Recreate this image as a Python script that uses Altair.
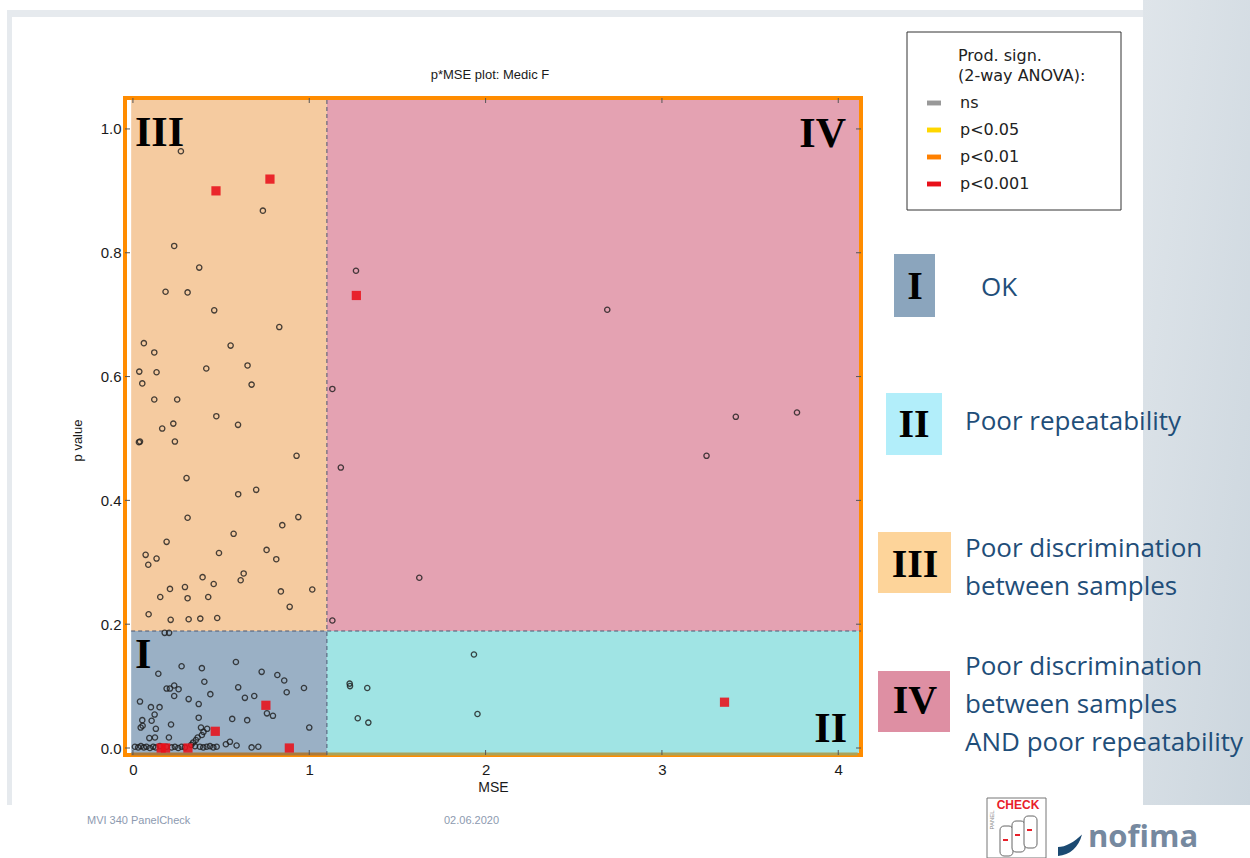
import altair as alt
import pandas as pd

# ---- p*MSE results (assessor x attribute) ---------------------------
# Quadrant I: low MSE, low p value
i_mse = [0.180, 0.205, 0.276, 0.391, 0.584, 0.144, 0.405, 0.730, 0.819, 0.858,
         0.191, 0.210, 0.234, 0.259, 0.597, 0.970, 0.872, 0.439, 0.234, 0.635,
         0.688, 0.316, 0.040, 0.373, 0.102, 0.151, 0.123, 0.760, 0.794, 0.373,
         0.053, 0.106, 0.563, 0.648, 0.216, 0.044, 0.055, 0.130, 0.386, 0.421,
         1.000, 0.400, 0.391, 0.367, 0.357, 0.342, 0.331, 0.093, 0.125, 0.204,
         0.527, 0.550]
i_p = [0.186, 0.186, 0.132, 0.129, 0.139, 0.120, 0.107, 0.123, 0.118, 0.109,
       0.096, 0.096, 0.101, 0.095, 0.098, 0.097, 0.090, 0.087, 0.084, 0.081,
       0.084, 0.079, 0.075, 0.071, 0.066, 0.066, 0.054, 0.056, 0.052, 0.049,
       0.045, 0.044, 0.047, 0.045, 0.038, 0.033, 0.036, 0.031, 0.033, 0.031,
       0.033, 0.026, 0.021, 0.017, 0.013, 0.009, 0.005, 0.016, 0.017, 0.017,
       0.006, 0.010]
# Quadrant I, results with p close to zero
zero_mse = [0.011, 0.030, 0.045, 0.062, 0.077, 0.096, 0.115, 0.130, 0.153, 0.191,
            0.219, 0.238, 0.257, 0.276, 0.295, 0.352, 0.380, 0.399, 0.418, 0.437,
            0.456, 0.475, 0.588, 0.673, 0.711]
zero_p = [0.002, 0.001, 0.003, 0.001, 0.002, 0.000, 0.002, 0.001, 0.003, 0.002,
          0.001, 0.002, 0.000, 0.002, 0.001, 0.003, 0.002, 0.001, 0.002, 0.003,
          0.001, 0.002, 0.004, 0.001, 0.002]
# Quadrant II: high MSE, low p value
ii_mse = [1.934, 1.229, 1.231, 1.329, 1.275, 1.335, 1.954]
ii_p = [0.151, 0.104, 0.100, 0.097, 0.048, 0.041, 0.055]
# Quadrant III: low MSE, high p value
iii_mse = [0.272, 0.737, 0.234, 0.376, 0.185, 0.310, 0.461, 0.830, 0.062, 0.121,
           0.554, 0.036, 0.134, 0.416, 0.650, 0.053, 0.673, 0.121, 0.251, 0.473,
           0.229, 0.596, 0.166, 0.034, 0.040, 0.238, 0.928, 0.304, 0.597, 0.699,
           0.310, 0.938, 0.847, 0.571, 0.191, 0.072, 0.134, 0.087, 0.488, 0.758,
           0.813, 0.628, 0.611, 0.395, 0.458, 0.210, 0.295, 0.155, 0.310, 0.427,
           0.839, 1.017, 0.889, 0.089, 0.214, 0.316, 0.382, 0.478]
iii_p = [0.964, 0.868, 0.811, 0.776, 0.737, 0.736, 0.707, 0.680, 0.654, 0.639,
         0.650, 0.608, 0.607, 0.613, 0.618, 0.589, 0.587, 0.563, 0.563, 0.536,
         0.524, 0.522, 0.516, 0.494, 0.495, 0.495, 0.472, 0.436, 0.410, 0.417,
         0.372, 0.373, 0.360, 0.346, 0.333, 0.312, 0.306, 0.296, 0.315, 0.320,
         0.305, 0.282, 0.271, 0.276, 0.265, 0.257, 0.260, 0.244, 0.242, 0.244,
         0.253, 0.256, 0.228, 0.216, 0.207, 0.208, 0.209, 0.210]
# Quadrant IV: high MSE, high p value
iv_mse = [1.265, 2.690, 1.131, 1.179, 3.419, 3.766, 3.253, 1.624, 1.131]
iv_p = [0.771, 0.708, 0.580, 0.453, 0.535, 0.542, 0.472, 0.275, 0.206]

# Results with a significant product effect (drawn as squares)
sq_mse = [0.471, 0.777, 1.267, 3.355, 0.754, 0.467, 0.160, 0.185, 0.312, 0.887]
sq_p = [0.900, 0.919, 0.731, 0.074, 0.069, 0.027, 0.000, 0.000, 0.000, 0.000]
sq_sig = ["p<0.001", "p<0.001", "p<0.001", "p<0.001", "p<0.001",
          "p<0.001", "p<0.001", "p<0.001", "p<0.001", "p<0.001"]

SIG_LEVELS = ["ns", "p<0.05", "p<0.01", "p<0.001"]
SIG_COLORS = ["#999999", "#ffd700", "#ff8000", "#e8101a"]

QUAD_NAMES = ["I", "II", "III", "IV"]
QUAD_FILLS = ["#9ab0c5", "#a0e4e4", "#f5cba0", "#e4a2b2"]
BOX_FILLS = ["#8ba5bd", "#b2eefa", "#fdd49a", "#de8fa3"]
QUAD_TEXT = ["OK", "Poor repeatability",
             "Poor discrimination\nbetween samples",
             "Poor discrimination\nbetween samples\nAND poor repeatability"]

X_TICKS = [0, 1, 2, 3, 4]
Y_TICKS = [0.0, 0.2, 0.4, 0.6, 0.8, 1.0]
MSE_LIMIT = 1.1
P_LIMIT = 0.189
PLOT_TITLE = "p*MSE plot: Medic F"

# ---- page geometry ---------------------------------------------------
PAGE_W, PAGE_H = 1250, 858
LEFT, TOP = 125, 98          # page position of the plot frame
W, H = 736, 657
X_DOMAIN = [-0.045, 4.129]
Y_DOMAIN = [-0.0113, 1.050]
FILL_X0 = -0.01

SANS = "Liberation Sans"
SERIF = "Liberation Serif"
SLIDE_FONT = "Open Sans"
SLIDE_BLUE = "#1f4e79"

ONE = alt.InlineData(values=[{"k": 0}])


def px_rect(x0, y0, x1, y1, **style):
    return alt.Chart(ONE).mark_rect(**style).encode(
        x=alt.value(x0 - LEFT), x2=alt.value(x1 - LEFT),
        y=alt.value(y0 - TOP), y2=alt.value(y1 - TOP))


def px_text(x, y, text, **style):
    # multi-line texts: y is the centre of the first line
    return alt.Chart(ONE).mark_text(lineBreak="\n", **style).encode(
        x=alt.value(x - LEFT), y=alt.value(y - TOP), text=alt.value(text))


xs = alt.Scale(domain=X_DOMAIN, nice=False, zero=False)
ys = alt.Scale(domain=Y_DOMAIN, nice=False, zero=False)
x_axis = alt.Axis(values=X_TICKS, format="d", title="MSE", ticks=False, domain=False,
                  grid=False, labelFont=SANS, labelFontSize=15, labelColor="#1a1a1a",
                  labelPadding=7, labelFlush=False, titleFont=SANS, titleFontSize=14,
                  titleFontWeight="normal", titleColor="#1a1a1a", titlePadding=3)
y_axis = alt.Axis(values=Y_TICKS, format=".1f", title="p value", ticks=False, domain=False,
                  grid=False, labelFont=SANS, labelFontSize=15, labelColor="#1a1a1a",
                  labelPadding=4, labelFlush=False, titleFont=SANS, titleFontSize=13,
                  titleFontWeight="normal", titleColor="#1a1a1a", titlePadding=16,
                  titleY=342)


def X(field):
    return alt.X(field, type="quantitative", scale=xs, axis=x_axis)


def Y(field):
    return alt.Y(field, type="quantitative", scale=ys, axis=y_axis)


# ---- slide decorations --------------------------------------------------
side_panel = px_rect(1143, 0, PAGE_W, 805, fill=alt.Gradient(
    gradient="linear", x1=0, x2=1, y1=0, y2=1,
    stops=[alt.GradientStop(color="#dfe5ea", offset=0),
           alt.GradientStop(color="#ccd6de", offset=1)]))
top_band = px_rect(7, 10, 1143, 17, fill="#e6eaee")
left_line = px_rect(7, 10, 12, 805, fill="#e6eaee")

# ---- quadrant backgrounds ---------------------------------------------
quad_df = pd.DataFrame({
    "quad": QUAD_NAMES,
    "x0": [FILL_X0, MSE_LIMIT, FILL_X0, MSE_LIMIT],
    "x1": [MSE_LIMIT, X_DOMAIN[1], MSE_LIMIT, X_DOMAIN[1]],
    "y0": [Y_DOMAIN[0], Y_DOMAIN[0], P_LIMIT, P_LIMIT],
    "y1": [P_LIMIT, P_LIMIT, Y_DOMAIN[1], Y_DOMAIN[1]],
})
quads = alt.Chart(quad_df).mark_rect().encode(
    x=X("x0"), x2="x1", y=Y("y0"), y2="y1",
    fill=alt.Fill("quad:N", scale=alt.Scale(domain=QUAD_NAMES, range=QUAD_FILLS), legend=None))

frame = px_rect(LEFT, TOP, LEFT + W, TOP + H, filled=False, stroke="#ff8c00", strokeWidth=4)

edge_i = alt.Chart(pd.DataFrame({"x0": [FILL_X0], "x1": [MSE_LIMIT]})).mark_rule(
    color="#aa7a3c", strokeWidth=3).encode(x=X("x0"), x2="x1", y=alt.value(H - 1))
edge_ii = alt.Chart(pd.DataFrame({"x0": [MSE_LIMIT], "x1": [4.11]})).mark_rule(
    color="#a9a35a", strokeWidth=3).encode(x=X("x0"), x2="x1", y=alt.value(H - 1))

div_style = dict(color="#4a5670", strokeWidth=1, strokeDash=[4, 3])
v_div = alt.Chart(pd.DataFrame({"x": [MSE_LIMIT], "y0": [Y_DOMAIN[0]], "y1": [Y_DOMAIN[1]]})
                  ).mark_rule(**div_style).encode(x=X("x"), y=Y("y0"), y2="y1")
h_div = alt.Chart(pd.DataFrame({"y": [P_LIMIT], "x0": [FILL_X0], "x1": [X_DOMAIN[1]]})
                  ).mark_rule(**div_style).encode(y=Y("y"), x=X("x0"), x2="x1")

# inward-pointing tick marks on all four sides
tick_style = dict(color="#555555", strokeWidth=1)
xt_df = pd.DataFrame({"t": X_TICKS})
yt_df = pd.DataFrame({"t": Y_TICKS})
ticks = [
    alt.Chart(xt_df).mark_rule(**tick_style).encode(x=X("t"), y=alt.value(H - 5), y2=alt.value(H)),
    alt.Chart(xt_df).mark_rule(**tick_style).encode(x=X("t"), y=alt.value(0), y2=alt.value(5)),
    alt.Chart(yt_df).mark_rule(**tick_style).encode(y=Y("t"), x=alt.value(0), x2=alt.value(5)),
    alt.Chart(yt_df).mark_rule(**tick_style).encode(y=Y("t"), x=alt.value(W - 5), x2=alt.value(W)),
]

# ---- data marks ------------------------------------------------------------
circ_df = pd.DataFrame({
    "mse": i_mse + zero_mse + ii_mse + iii_mse + iv_mse,
    "p": i_p + zero_p + ii_p + iii_p + iv_p,
})
circles = alt.Chart(circ_df).mark_point(
    shape="circle", filled=False, size=28, stroke="#1c1c1c", strokeWidth=1.3, opacity=0.8
).encode(x=X("mse"), y=Y("p"))

sq_df = pd.DataFrame({"mse": sq_mse, "p": sq_p, "sig": sq_sig})
squares = alt.Chart(sq_df).mark_square(size=85, opacity=0.88).encode(
    x=X("mse"), y=Y("p"),
    color=alt.Color("sig:N", scale=alt.Scale(domain=SIG_LEVELS, range=SIG_COLORS),
                    legend=alt.Legend(orient="none", legendX=801, legendY=-3, title=None,
                                      padding=0, labelFont="DejaVu Sans", labelFontSize=16,
                                      labelColor="#222222", labelOffset=18, rowPadding=11,
                                      symbolType="M-1,-0.35H1V0.35H-1Z", symbolSize=196,
                                      symbolStrokeWidth=0, symbolOpacity=1)))

# ---- plot title and quadrant numerals ----------------------------------------
plot_title = px_text(490, 75, PLOT_TITLE, font=SANS, fontSize=13, color="#1a1a1a",
                     align="center", baseline="middle")
numeral = dict(font=SERIF, fontWeight="bold", fontSize=42, color="#000000", baseline="middle")
plot_numerals = [
    px_text(135, 133, "III", align="left", **numeral),
    px_text(846, 134, "IV", align="right", **numeral),
    px_text(135, 655, "I", align="left", **numeral),
    px_text(847, 729, "II", align="right", **numeral),
]

# ---- legend box ------------------------------------------------------------
legend_box = px_rect(907, 32, 1121, 210, fill="white", stroke="#333333", strokeWidth=1)
legend_title = px_text(958, 56, "Prod. sign.\n(2-way ANOVA):", align="left", baseline="middle",
                       font="DejaVu Sans", fontSize=16, lineHeight=20, color="#222222")

# ---- quadrant key on the right --------------------------------------------
key_boxes = [
    px_rect(894, 254, 935, 317, fill=BOX_FILLS[0]),
    px_rect(886, 393, 942, 455, fill=BOX_FILLS[1]),
    px_rect(878, 532, 951, 593, fill=BOX_FILLS[2]),
    px_rect(878, 671, 950, 732, fill=BOX_FILLS[3]),
]
key_numeral = dict(font=SERIF, fontWeight="bold", fontSize=40, color="#000000",
                   baseline="middle", align="center")
key_numerals = [
    px_text(915, 287, QUAD_NAMES[0], **key_numeral),
    px_text(914, 425, QUAD_NAMES[1], **key_numeral),
    px_text(915, 565, QUAD_NAMES[2], **key_numeral),
    px_text(915, 701, QUAD_NAMES[3], **key_numeral),
]
key_style = dict(font=SLIDE_FONT, fontSize=26, color=SLIDE_BLUE, align="left",
                 baseline="middle", lineHeight=38)
key_texts = [
    px_text(981, 288, QUAD_TEXT[0], **key_style),
    px_text(965, 422, QUAD_TEXT[1], **key_style),
    px_text(965, 549, QUAD_TEXT[2], **key_style),
    px_text(965, 667, QUAD_TEXT[3], **key_style),
]

# ---- footer and logos --------------------------------------------------------
foot = dict(font=SANS, fontSize=11, color="#8d9ab0", align="left", baseline="middle")
footer = [
    px_text(87, 821, "MVI 340 PanelCheck", **foot),
    px_text(444, 821, "02.06.2020", **foot),
]
logo = [
    px_rect(987, 798, 1046, 858, fill="white", stroke="#777777", strokeWidth=1),
    px_text(1018, 805, "CHECK", font=SANS, fontWeight="bold", fontSize=12, color="#e8202a",
            align="center", baseline="middle"),
    px_text(992, 820, "PANEL", font=SANS, fontSize=6, color="#888888", angle=270,
            align="center", baseline="middle"),
    px_rect(1000, 826, 1013, 856, fill="white", stroke="#666666", strokeWidth=1, cornerRadius=4),
    px_rect(1012, 821, 1025, 852, fill="white", stroke="#666666", strokeWidth=1, cornerRadius=4),
    px_rect(1024, 816, 1037, 848, fill="white", stroke="#666666", strokeWidth=1, cornerRadius=4),
    px_rect(1003, 839, 1008, 841, fill="#e8202a"),
    px_rect(1015, 834, 1020, 836, fill="#e8202a"),
    px_rect(1027, 829, 1032, 831, fill="#e8202a"),
    alt.Chart(ONE).mark_point(
        shape="M-1,1 L-1,0.25 C-0.4,0.25 0.4,-0.2 1,-0.8 C0.7,0.3 0,0.9 -1,1 Z",
        filled=True, size=576, color="#1b4a72", opacity=1
    ).encode(x=alt.value(1070 - LEFT), y=alt.value(844 - TOP)),
    px_text(1088, 838, "nofima", font=SLIDE_FONT, fontWeight="bold", fontSize=31,
            color="#76899f", align="left", baseline="middle"),
]

layers = ([side_panel, top_band, left_line, quads, frame, edge_i, edge_ii, v_div, h_div]
          + ticks + [circles, squares, plot_title] + plot_numerals + [legend_box, legend_title]
          + key_boxes + key_numerals + key_texts + footer + logo)

chart = alt.layer(*layers).properties(
    width=W, height=H,
    autosize=alt.AutoSizeParams(type="none"),
    padding={"left": LEFT, "top": TOP, "right": PAGE_W - LEFT - W, "bottom": PAGE_H - TOP - H},
    background="white",
).configure_view(stroke=None)

chart.save("out.html", embed_options={"renderer": "svg", "actions": False})
